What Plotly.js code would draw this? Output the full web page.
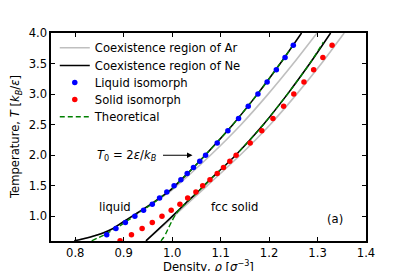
<!DOCTYPE html>
<html>
<head>
<meta charset="utf-8">
<script src="https://cdn.plot.ly/plotly-3.0.1.min.js"></script>
<style>html,body{margin:0;padding:0;background:#fff;}#chart{width:407px;height:271px;}</style>
</head>
<body>
<div id="chart"></div>
<script>
// Liquid isomorph (blue)
const liquidT   = [0.7,0.8,0.9,1.0,1.1,1.2,1.3,1.4,1.5,1.6,1.7,1.8,1.9,2.0,2.2,2.4,2.6,2.8,3.0,3.2,3.4,3.6,3.8];
const liquidRho = [0.865,0.884,0.9035,0.923,0.941,0.959,0.974,0.989,1.004,1.018,1.031,1.044,1.057,1.069,1.093,1.115,1.137,1.157,1.177,1.196,1.215,1.233,1.250];
// Solid isomorph (red)
const solidT   = [0.6,0.7,0.8,0.9,1.0,1.1,1.2,1.3,1.4,1.5,1.6,1.7,1.8,1.9,2.0,2.2,2.4,2.6,2.8,3.0,3.2,3.4,3.6,3.8];
const solidRho = [0.8925,0.916,0.938,0.959,0.979,0.998,1.016,1.032,1.049,1.063,1.078,1.093,1.106,1.119,1.132,1.161,1.185,1.208,1.230,1.251,1.272,1.292,1.311,1.330];
// Coexistence region of Ne (black)
const neLiqRho = [0.798,0.815,0.83,0.845,0.86,0.875,0.891,0.908,0.926,0.943,0.96,0.977,0.995,1.016,1.043,1.068,1.125,1.176,1.223,1.267];
const neLiqT   = [0.6,0.63,0.66,0.695,0.737,0.79,0.87,0.955,1.045,1.13,1.22,1.315,1.42,1.58,1.79,2.0,2.5,3.0,3.5,4.0];
const neSolRho = [0.946,0.973,1.0,1.026,1.053,1.078,1.105,1.131,1.188,1.238,1.284,1.327];
const neSolT   = [0.6,0.8,1.0,1.2,1.4,1.6,1.8,2.0,2.5,3.0,3.5,4.0];
// Coexistence region of Ar (grey)
const arLiqRho = [0.798,0.847,0.877,0.917,0.995,1.024,1.079,1.142,1.198,1.250,1.299];
const arLiqT   = [0.6,0.7,0.8,1.0,1.4,1.6,2.0,2.5,3.0,3.5,4.0];
const arSolRho = [0.946,1.003,1.072,1.140,1.202,1.257,1.308,1.355];
const arSolT   = [0.6,1.0,1.5,2.0,2.5,3.0,3.5,4.0];
// Theoretical (green dashed)
const thLiqRho = [0.834,0.86,0.885,0.91,0.935,0.96,0.977,0.995,1.016,1.043,1.068,1.125,1.176,1.223,1.254];
const thLiqT   = [0.6,0.70,0.81,0.94,1.08,1.21,1.315,1.42,1.58,1.79,2.0,2.5,3.0,3.5,3.85];
const thSolRho = [0.977,0.982,0.987,0.993,1.0,1.008,1.018,1.026,1.053,1.078,1.105,1.131,1.188,1.238,1.284,1.312];
const thSolT   = [0.6,0.65,0.72,0.82,0.93,1.04,1.14,1.2,1.4,1.6,1.8,2.0,2.5,3.0,3.5,3.85];

const xTicks = [0.8,0.9,1.0,1.1,1.2,1.3,1.4];
const yTicks = [1.0,1.5,2.0,2.5,3.0,3.5,4.0];
const xTitle = 'Density, <i>ρ</i> [<i>σ</i><sup>−3</sup>]';
const yTitle = 'Temperature, <i>T</i> [<i>k</i><sub><i>B</i></sub>/<i>ε</i>]';

function join(a, b){ return a.concat([null], b); }

const FONT = 'DejaVu Sans';
const FS = 11.6;
const traces = [
  {x: join(arLiqRho, arSolRho), y: join(arLiqT, arSolT), mode:'lines', name:'Coexistence region of Ar',
   line:{color:'#bfbfbf', width:1.6, shape:'spline', smoothing:0.6}, connectgaps:false, legend:'legend'},
  {x: join(neLiqRho, neSolRho), y: join(neLiqT, neSolT), mode:'lines', name:'Coexistence region of Ne',
   line:{color:'#000000', width:1.6, shape:'spline', smoothing:0.6}, connectgaps:false, legend:'legend2'},
  {x: join(thLiqRho, thSolRho), y: join(thLiqT, thSolT), mode:'lines', name:'Theoretical',
   line:{color:'#008000', width:1.4, dash:'5px,3px', shape:'spline', smoothing:0.6}, connectgaps:false, legend:'legend5'},
  {x: liquidRho, y: liquidT, mode:'markers', name:'Liquid isomorph',
   marker:{color:'#0000ff', size:5.5}, legend:'legend3'},
  {x: solidRho, y: solidT, mode:'markers', name:'Solid isomorph',
   marker:{color:'#ff0000', size:5.5}, legend:'legend4'}
];

function leg(yc){
  return {x:0.012, y:yc, xanchor:'left', yanchor:'middle', bgcolor:'rgba(0,0,0,0)', borderwidth:0,
          font:{family:FONT, size:FS, color:'#000'}, itemwidth:30};
}
const tf = {family:FONT, size:FS, color:'#000'};

const layout = {
  width:407, height:271,
  margin:{l:51, r:41, t:33, b:30},
  paper_bgcolor:'#ffffff', plot_bgcolor:'#ffffff',
  font:tf,
  showlegend:true,
  legend:leg(0.929), legend2:leg(0.8438), legend3:leg(0.762), legend4:leg(0.680), legend5:leg(0.5976),
  xaxis:{range:[0.75,1.4], tickvals:xTicks, ticktext:xTicks.map(v=>v.toFixed(1)),
         ticks:'inside', ticklen:4, tickwidth:1, tickcolor:'#000', showline:true, linecolor:'#000', linewidth:1.6,
         mirror:'allticks', showgrid:false, zeroline:false, tickfont:tf, automargin:false},
  yaxis:{range:[0.597,4.0], tickvals:yTicks, ticktext:yTicks.map(v=>v.toFixed(1)),
         ticks:'inside', ticklen:4, tickwidth:1, tickcolor:'#000', showline:true, linecolor:'#000', linewidth:1.6,
         mirror:'allticks', showgrid:false, zeroline:false, tickfont:tf, automargin:false},
  annotations:[
    {x:0.5, y:-0.122, xref:'paper', yref:'paper', xanchor:'center', yanchor:'middle', text:xTitle, showarrow:false, font:tf},
    {x:-0.114, y:0.5, xref:'paper', yref:'paper', xanchor:'center', yanchor:'middle', textangle:-90, text:yTitle, showarrow:false, font:tf},
    {x:0.882, y:1.152, xref:'x', yref:'y', text:'liquid', showarrow:false, font:tf},
    {x:1.129, y:1.152, xref:'x', yref:'y', text:'fcc solid', showarrow:false, font:tf},
    {x:1.337, y:0.956, xref:'x', yref:'y', text:'(a)', showarrow:false, font:tf},
    {x:0.907, y:2.0, xref:'x', yref:'y', text:'<i>T</i><sub>0</sub> = 2<i>ε</i>/<i>k</i><sub><i>B</i></sub>', showarrow:false, font:tf},
    {x:1.042, y:2.0, xref:'x', yref:'y', ax:0.978, ay:2.0, axref:'x', ayref:'y', text:'', showarrow:true,
     arrowhead:2, arrowsize:1, arrowwidth:1.1, arrowcolor:'#000', standoff:0}
  ]
};

Plotly.newPlot('chart', traces, layout, {displayModeBar:false, staticPlot:true});
</script>
</body>
</html>
